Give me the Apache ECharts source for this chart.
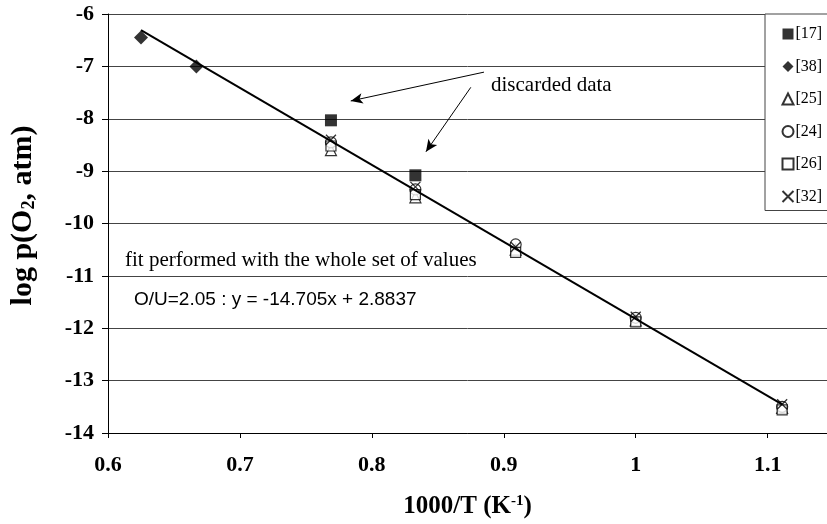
<!DOCTYPE html>
<html><head><meta charset="utf-8">
<script src="https://cdn.jsdelivr.net/npm/echarts@6/dist/echarts.min.js"></script>
<style>html,body{margin:0;padding:0;background:#fff}#c{width:827px;height:524px}</style>
</head><body><div id="c"></div>
<script>
// data
const xTicks = [0.6, 0.7, 0.8, 0.9, 1.0, 1.1];
const yTicks = [-6, -7, -8, -9, -10, -11, -12, -13, -14];
const ref17 = [[0.769, -8.03], [0.833, -9.08]];
const ref38 = [[0.625, -6.45], [0.667, -7.0]];
const ref25 = [[0.769, -8.6], [0.833, -9.5], [0.909, -10.5], [1.0, -11.85], [1.111, -13.52]];
const ref24 = [[0.769, -8.45], [0.833, -9.35], [0.909, -10.4], [1.0, -11.8], [1.111, -13.5]];
const ref26 = [[0.769, -8.52], [0.833, -9.45], [0.909, -10.55], [1.0, -11.88], [1.111, -13.56]];
const ref32 = [[0.769, -8.4], [0.833, -9.3], [0.909, -10.45], [1.0, -11.78], [1.111, -13.45]];
const fitLine = [[0.625, -6.307], [1.111, -13.454]];
const arrowA = [[0.885, -7.11], [0.784, -7.66]];
const arrowB = [[0.875, -7.4], [0.841, -8.63]];

const serif = 'Liberation Serif';
const chart = echarts.init(document.getElementById('c'));
const hollow = {color: '#fff', borderColor: '#000', borderWidth: 1.2};
const crossPath = 'path://M0,0L10,10M10,0L0,10';
function sc(name, data, symbol, size, style) {
  return {name, type: 'scatter', data, symbol, symbolSize: size, itemStyle: style, z: 3, animation: false};
}
chart.setOption({
  animation: false,
  grid: {left: 107, right: 0, top: 14, height: 419},
  xAxis: {
    type: 'value', min: 0.6, max: 1.145, interval: 0.1,
    axisLine: {lineStyle: {color: '#000', width: 1}},
    axisTick: {show: true, length: 5, lineStyle: {color: '#000'}},
    splitLine: {show: false},
    axisLabel: {showMaxLabel: false, margin: 21, color: '#000', fontFamily: serif, fontWeight: 'bold', fontSize: 22,
      formatter: v => String(Math.round(v * 10) / 10)},
    name: '{a|1000/T (K}{s|-1}{a|)}', nameLocation: 'middle', nameGap: 61,
    nameTextStyle: {rich: {a: {fontFamily: serif, fontWeight: 'bold', fontSize: 25, color: '#000'},
      s: {fontFamily: serif, fontWeight: 'bold', fontSize: 15, color: '#000', verticalAlign: 'top', padding: [0, 0, 10, 0]}}}
  },
  yAxis: {
    type: 'value', min: -14, max: -6, interval: 1,
    axisLine: {show: true, lineStyle: {color: '#000', width: 1}},
    axisTick: {show: true, length: 6, lineStyle: {color: '#000'}},
    splitLine: {show: true, lineStyle: {color: '#444', width: 1}},
    axisLabel: {margin: 14, color: '#000', fontFamily: serif, fontWeight: 'bold', fontSize: 22},
    name: '{a|log p(O}{s|2}{a|, atm)}', nameLocation: 'middle', nameGap: 70, nameRotate: 90,
    nameTextStyle: {padding: [0, 0, 0, 16], rich: {a: {fontFamily: serif, fontWeight: 'bold', fontSize: 30, color: '#000'},
      s: {fontFamily: serif, fontWeight: 'bold', fontSize: 18, color: '#000', verticalAlign: 'bottom', padding: [12, 0, 0, 0]}}}
  },
  legend: {
    orient: 'vertical', left: 765, top: 14,
    padding: [12, 20, 6, 15], itemGap: 16.5, itemWidth: 11, itemHeight: 11,
    backgroundColor: '#fff', borderColor: '#444', borderWidth: 1, borderRadius: 0,
    textStyle: {fontFamily: serif, fontSize: 16, color: '#000', padding: [0, 0, 0, -3]},
    data: ['[17]', '[38]', '[25]', '[24]', '[26]', '[32]'], z: 10
  },
  series: [
    {name: 'fit', type: 'line', data: fitLine, symbol: 'none', lineStyle: {color: '#000', width: 2}, z: 4, silent: true,
      markLine: {silent: true, symbol: ['none', 'arrow'], symbolSize: [8, 12], label: {show: false},
        lineStyle: {color: '#000', width: 1, type: 'solid'},
        data: [
          [{coord: arrowA[0]}, {coord: arrowA[1]}],
          [{coord: arrowB[0]}, {coord: arrowB[1]}]
        ]}},
    sc('[25]', ref25, 'triangle', 11, hollow),
    sc('[24]', ref24, 'circle', 11, hollow),
    sc('[26]', ref26, 'rect', 10, hollow),
    sc('[32]', ref32, crossPath, 10, {color: 'none', borderColor: '#000', borderWidth: 1.3}),
    sc('[17]', ref17, 'rect', 12, {color: '#000'}),
    sc('[38]', ref38, 'diamond', 14, {color: '#000'})
  ],
  graphic: [
    {type: 'text', left: 491, top: 75, style: {text: 'discarded data', font: '21px "Liberation Serif"', fill: '#000'}},
    {type: 'text', left: 125, top: 250, style: {text: 'fit performed with the whole set of values', font: '21px "Liberation Serif"', fill: '#000'}},
    {type: 'text', left: 134, top: 290, style: {text: 'O/U=2.05 : y = -14.705x + 2.8837', font: '19px "Liberation Sans"', fill: '#000'}}
  ]
});
</script></body></html>
